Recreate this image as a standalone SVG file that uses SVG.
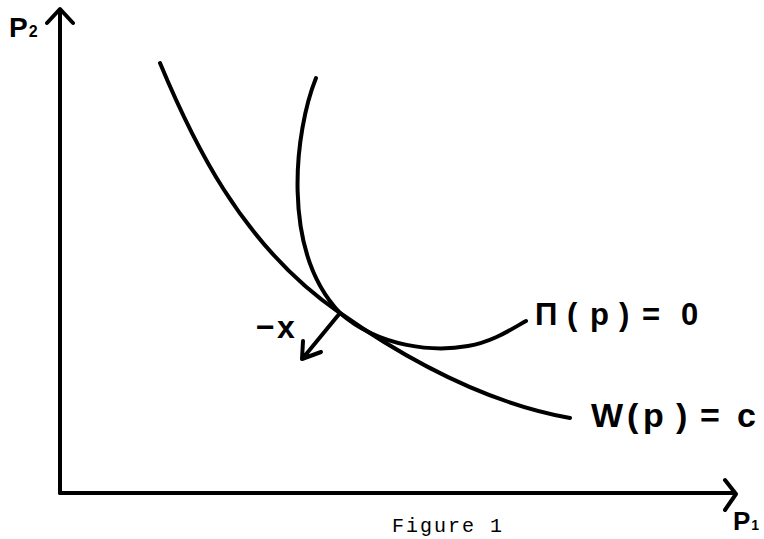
<svg xmlns="http://www.w3.org/2000/svg" width="764" height="539" viewBox="0 0 764 539">
<style>
.ln{fill:none;stroke:#000;stroke-width:4;stroke-linecap:round;stroke-linejoin:round}
.lbl{font-family:"Liberation Sans","DejaVu Sans",sans-serif;font-weight:bold;fill:#000}
.cap{font-family:"Liberation Mono","DejaVu Sans Mono",monospace;fill:#000}
</style>
<rect width="764" height="539" fill="#fff"/>
<g id="axes">
<path class="ln" d="M60,493 V10 M47,23 L60,9 L73,23"/>
<path class="ln" d="M60,493 H734 M725,480 L736,494 L725,510"/>
</g>
<g id="axis-labels">
<text class="lbl" x="9" y="37" font-size="28">P<tspan font-size="16" dx="1">2</tspan></text>
<text class="lbl" x="733" y="530" font-size="26">P<tspan font-size="14" dx="1">1</tspan></text>
</g>
<g id="connectors">
<path id="W-curve" class="ln" d="M160,63 C190,135 240,245 340,313 C400,355 480,402 570,418"/>
<path id="Pi-curve" class="ln" d="M316,78 C295,130 280,250 340,313 C380,348 435,352 468,346 C492,342 510,330 526,321"/>
<path id="grad-arrow" class="ln" d="M340,313 L303,358 M303,341 L302,359 L321,352"/>
</g>
<g id="W-label">
<text class="lbl" font-size="34" y="427" x="591 627 643 676 700 737">W(p)=c</text>
</g>
<g id="Pi-label">
<text class="lbl" font-size="31" y="325" x="535 567 590 619 642 681">Π(p)=0</text>
</g>
<g id="x-label">
<text class="lbl" font-size="32" y="338" x="256 277">−x</text>
</g>
<g id="caption">
<text class="cap" x="392" y="532" font-size="20" letter-spacing="2">Figure 1</text>
</g>
</svg>
